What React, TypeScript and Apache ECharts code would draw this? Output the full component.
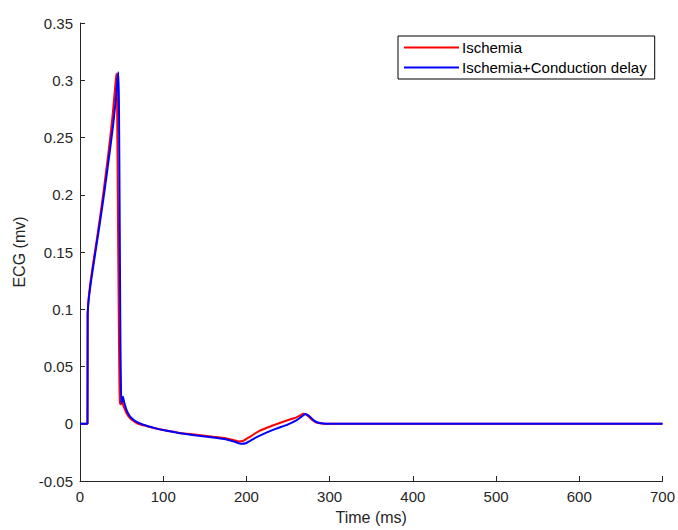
import React, { useEffect, useRef } from "react";
import * as echarts from "echarts";

const xTicks = [0, 100, 200, 300, 400, 500, 600, 700];
const yTicks = [-0.05, 0, 0.05, 0.1, 0.15, 0.2, 0.25, 0.3, 0.35];
const seriesNames = ["Ischemia", "Ischemia+Conduction delay"];

const ischemiaTime = [
  0, 9, 9.2, 10, 11, 13, 16, 20, 24, 28, 32, 36, 39, 41, 43, 43.8, 44.6, 45.5, 46.5, 47.3, 48, 49, 49.8, 51,
  53, 56, 60, 65, 70, 80, 90, 100, 120, 140, 160, 175, 185, 191, 196, 205, 215, 230, 245, 258, 265, 268,
  272, 278, 284, 290, 300, 700,
];
const ischemiaValue = [
  0, 0, 0.095, 0.106, 0.114, 0.126, 0.141, 0.16, 0.18, 0.201, 0.224, 0.248, 0.268, 0.284, 0.3, 0.306,
  0.28, 0.19, 0.1, 0.04, 0.018, 0.017, 0.02, 0.018, 0.014, 0.009, 0.005, 0.002, 0.0, -0.002, -0.004,
  -0.0055, -0.008, -0.0095, -0.0113, -0.0126, -0.0143, -0.0155, -0.015, -0.011, -0.0065, -0.002, 0.002,
  0.005, 0.0075, 0.0087, 0.008, 0.004, 0.001, 0.0002, 0, 0,
];

const delayTime = [
  0, 9, 9.2, 10, 11, 13, 16, 20, 24, 28, 32, 36, 40, 43, 45, 46, 46.8, 47.6, 48.5, 49.3, 50, 50.8, 51.6,
  53, 56, 60, 65, 70, 80, 90, 100, 120, 140, 160, 175, 185, 194, 200, 210, 220, 235, 250, 260, 266, 271,
  275, 281, 287, 295, 305, 700,
];
const delayValue = [
  0, 0, 0.095, 0.105, 0.112, 0.123, 0.138, 0.157, 0.176, 0.196, 0.217, 0.239, 0.262, 0.283, 0.3, 0.307,
  0.28, 0.19, 0.08, 0.028, 0.018, 0.021, 0.0235, 0.019, 0.012, 0.0065, 0.003, 0.001, -0.0018, -0.0038,
  -0.0055, -0.0082, -0.0102, -0.012, -0.0135, -0.0155, -0.0175, -0.0168, -0.0125, -0.009, -0.0045,
  -0.0005, 0.003, 0.006, 0.0085, 0.007, 0.003, 0.0008, 0.0001, 0, 0,
];

const toPairs = (t: number[], v: number[]) => t.map((x, i) => [x, v[i]]);

export default function App() {
  const ref = useRef<HTMLDivElement>(null);
  useEffect(() => {
    if (!ref.current) return;
    const chart = echarts.init(ref.current, null, { renderer: "svg" });
    const axisColor = "#262626";
    const font = "'Liberation Sans', Arial, sans-serif";
    chart.setOption({
      animation: false,
      backgroundColor: "#ffffff",
      textStyle: { fontFamily: font },
      grid: { left: 80, right: 13, top: 23, bottom: 45, containLabel: false },
      legend: {
        show: true,
        orient: "vertical",
        left: 398,
        top: 36,
        data: seriesNames,
        backgroundColor: "#ffffff",
        borderColor: "#000000",
        borderWidth: 1,
        borderRadius: 0,
        padding: [4, 8, 4, 6],
        itemGap: 5,
        itemWidth: 55,
        itemHeight: 2,
        icon: "rect",
        textStyle: { fontSize: 15, color: "#000000", fontFamily: font, padding: [0, 0, 0, -2] },
      },
      xAxis: {
        type: "value",
        min: 0,
        max: 700,
        interval: 100,
        name: "Time (ms)",
        nameLocation: "middle",
        nameGap: 28,
        nameTextStyle: { fontSize: 16, color: axisColor, fontFamily: font },
        axisLine: { show: true, onZero: false, lineStyle: { color: axisColor, width: 1 } },
        axisTick: { show: true, inside: true, length: 5, lineStyle: { color: axisColor } },
        axisLabel: {
          fontSize: 15,
          color: axisColor,
          margin: 8,
          fontFamily: font,
          customValues: xTicks,
          formatter: (v: number) => String(v),
        },
        splitLine: { show: false },
      },
      yAxis: {
        type: "value",
        min: -0.05,
        max: 0.35,
        interval: 0.05,
        name: "ECG (mv)",
        nameLocation: "middle",
        nameGap: 50,
        nameTextStyle: { fontSize: 16, color: axisColor, fontFamily: font },
        axisLine: { show: true, onZero: false, lineStyle: { color: axisColor, width: 1 } },
        axisTick: { show: true, inside: true, length: 5, lineStyle: { color: axisColor } },
        axisLabel: {
          fontSize: 15,
          color: axisColor,
          margin: 7,
          fontFamily: font,
          formatter: (v: number) => {
            const nearest = yTicks.reduce((a, b) => (Math.abs(b - v) < Math.abs(a - v) ? b : a));
            return String(+nearest.toFixed(2));
          },
        },
        splitLine: { show: false },
      },
      series: [
        {
          name: seriesNames[0],
          type: "line",
          data: toPairs(ischemiaTime, ischemiaValue),
          showSymbol: false,
          symbol: "none",
          smooth: 0.2,
          lineStyle: { color: "#ff0000", width: 2 },
          itemStyle: { color: "#ff0000" },
        },
        {
          name: seriesNames[1],
          type: "line",
          data: toPairs(delayTime, delayValue),
          showSymbol: false,
          symbol: "none",
          smooth: 0.2,
          lineStyle: { color: "#0000ff", width: 2 },
          itemStyle: { color: "#0000ff" },
        },
      ],
    });
    return () => chart.dispose();
  }, []);
  return <div ref={ref} style={{ width: 678, height: 530, position: "absolute", left: 0, top: 0 }} />;
}
